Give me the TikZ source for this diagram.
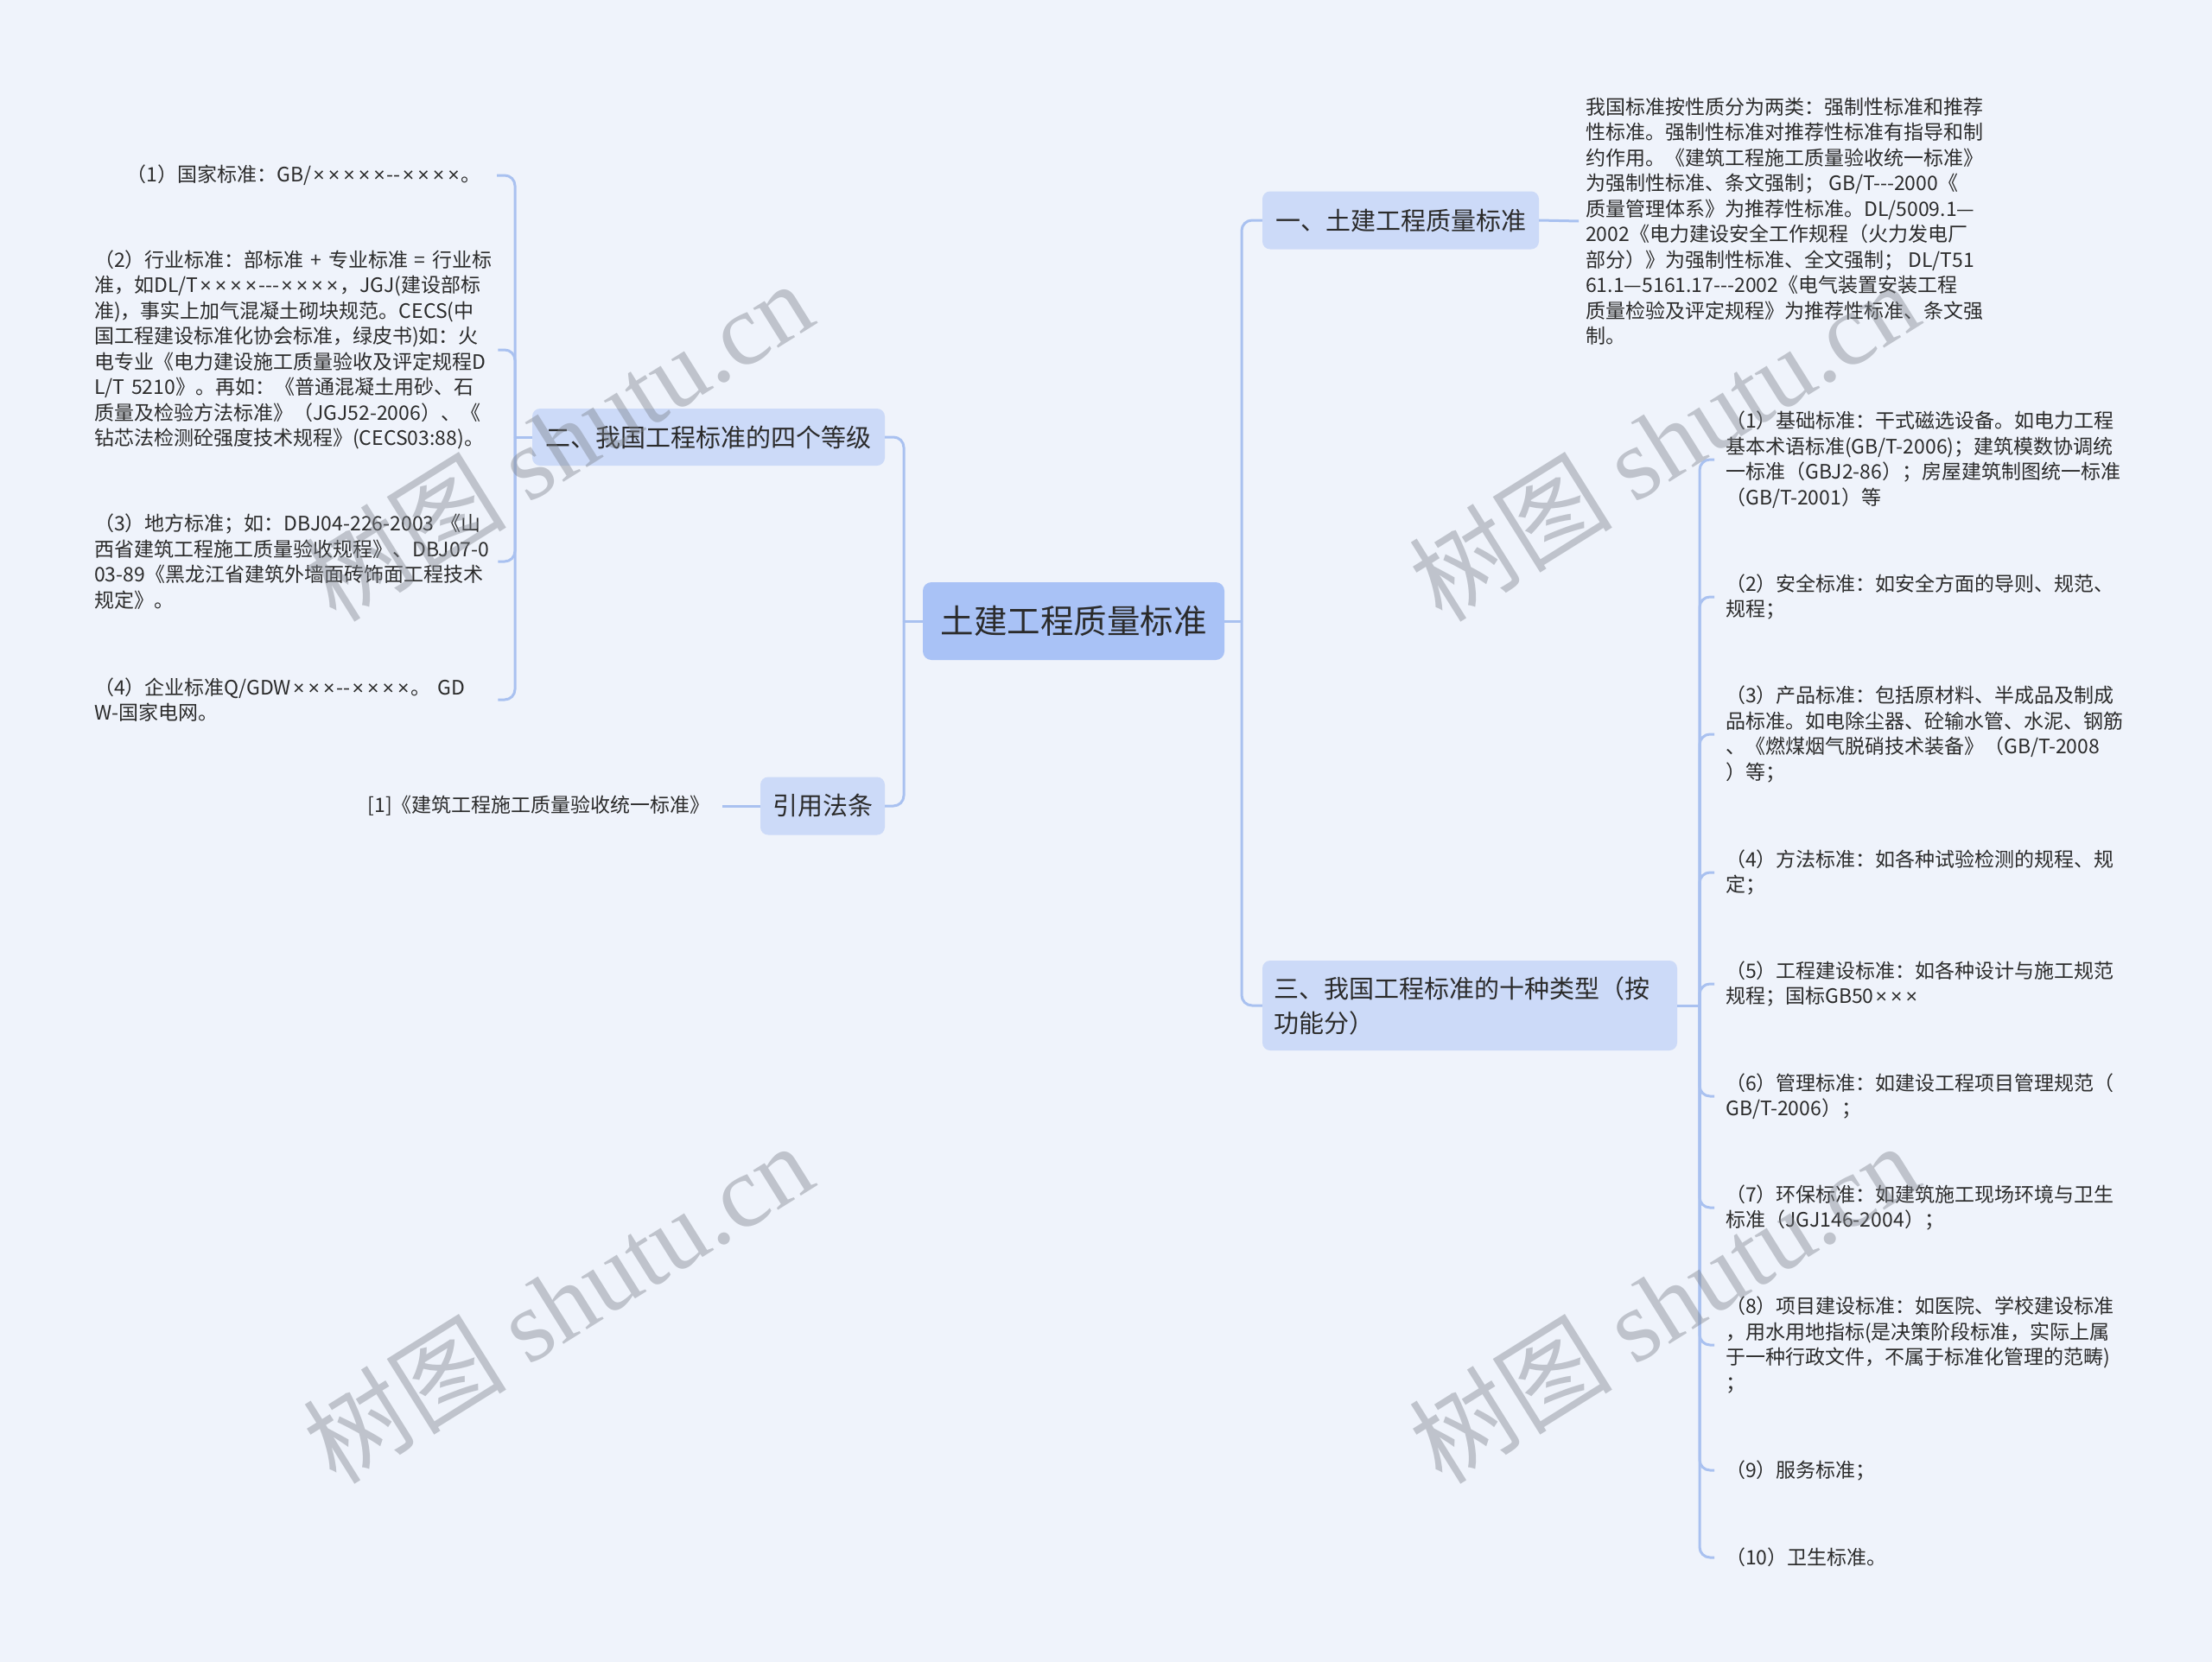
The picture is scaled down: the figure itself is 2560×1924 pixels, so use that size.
\documentclass[tikz,border=0pt]{standalone}
\usepackage{fontspec}
\setmainfont{Noto Sans CJK SC}[Ligatures=TeXOff]
\newfontfamily\wmlatin{Liberation Serif}[Ligatures=TeXOff]
\newfontfamily\wmcjk{Noto Sans CJK SC}[Ligatures=TeXOff]
\newfontfamily\xsignfont{Liberation Sans}[Ligatures=TeXOff]
\newcommand\mytimes{\makebox[17.5pt]{\xsignfont ×}}
\definecolor{bgc}{HTML}{EFF3FB}
\definecolor{rootc}{HTML}{A9C2F6}
\definecolor{lvlc}{HTML}{CCDAF8}
\definecolor{linec}{HTML}{A9C1F0}
\definecolor{txtc}{HTML}{2B2B2B}
\definecolor{wmc}{HTML}{7D828B}
\begin{document}
\begin{tikzpicture}[x=1pt,y=-1pt,
  rootbox/.style={fill=rootc, rounded corners=10pt, minimum width=349pt, minimum height=90pt, inner sep=0pt, text=txtc, font=\fontsize{38.5}{44}\selectfont},
  lvlbox/.style={fill=lvlc, rounded corners=9pt, inner sep=0pt, text=txtc, font=\fontsize{29}{40}\selectfont},
  leaf/.style={text=txtc, align=left, inner ysep=0pt, inner xsep=13pt, font=\fontsize{23}{29.5}\selectfont},
  lleaf/.style={leaf, anchor=west, inner xsep=5pt, text width=462pt},
  conn/.style={draw=linec, line width=3pt, rounded corners=12pt},
  wm/.style={text=wmc, text opacity=0.42, rotate=32, inner sep=0pt, font=\fontsize{118}{130}\selectfont}
]
\fill[bgc] (0,0) rectangle (2560,1924);
\useasboundingbox (0,0) rectangle (2560,1924);

% main nodes
\node[rootbox] (root) at (1242.5,719) {土建工程质量标准};
\node[lvlbox, minimum width=320pt, minimum height=67pt] (one) at (1621,255) {一、土建工程质量标准};
\node[lvlbox, minimum width=408pt, minimum height=66pt] (two) at (820,506) {二、我国工程标准的四个等级};
\node[lvlbox, minimum width=144pt, minimum height=67pt] (cite) at (952,933) {引用法条};
\node[lvlbox, minimum width=480pt, minimum height=104pt, text width=454pt, align=left] (three) at (1701,1164) {三、我国工程标准的十种类型（按\\功能分）};

% description of one
\node[leaf, anchor=west, inner xsep=8pt] (desc) at (1827,256) {我国标准按性质分为两类：强制性标准和推荐\\性标准。强制性标准对推荐性标准有指导和制\\约作用。《建筑工程施工质量验收统一标准》\\为强制性标准、条文强制； GB/T---2000《\\质量管理体系》为推荐性标准。DL/5009.1—\\2002《电力建设安全工作规程（火力发电厂\\部分）》为强制性标准、全文强制； DL/T51\\61.1—5161.17---2002《电气装置安装工程\\质量检验及评定规程》为推荐性标准、条文强\\制。};

% left leaves
\node[leaf, anchor=east, inner xsep=18pt] (l1) at (575,203) {（1）国家标准：GB/\mytimes\mytimes\mytimes\mytimes\mytimes--\mytimes\mytimes\mytimes\mytimes。};
\node[lleaf] (l2) at (104,405) {（2）行业标准：部标准 + 专业标准 = 行业标\\准，如DL/T\mytimes\mytimes\mytimes\mytimes---\mytimes\mytimes\mytimes\mytimes，JGJ(建设部标\\准)，事实上加气混凝土砌块规范。CECS(中\\国工程建设标准化协会标准，绿皮书)如：火\\电专业《电力建设施工质量验收及评定规程D\\L/T 5210》。再如：《普通混凝土用砂、石\\质量及检验方法标准》（JGJ52-2006）、《\\钻芯法检测砼强度技术规程》(CECS03:88)。};
\node[lleaf] (l3) at (104,650) {（3）地方标准；如：DBJ04-226-2003 《山\\西省建筑工程施工质量验收规程》、DBJ07-0\\03-89《黑龙江省建筑外墙面砖饰面工程技术\\规定》。};
\node[lleaf] (l4) at (104,810) {（4）企业标准Q/GDW\mytimes\mytimes\mytimes--\mytimes\mytimes\mytimes\mytimes。 GD\\W-国家电网。};
\node[leaf, anchor=east, inner xsep=14pt] (cl) at (836,933) {[1]《建筑工程施工质量验收统一标准》};

% right leaves
\node[leaf, anchor=west] (r1) at (1984,532) {（1）基础标准：干式磁选设备。如电力工程\\基本术语标准(GB/T-2006)；建筑模数协调统\\一标准（GBJ2-86）；房屋建筑制图统一标准\\（GB/T-2001）等};
\node[leaf, anchor=west] (r2) at (1984,691) {（2）安全标准：如安全方面的导则、规范、\\规程；};
\node[leaf, anchor=west] (r3) at (1984,850) {（3）产品标准：包括原材料、半成品及制成\\品标准。如电除尘器、砼输水管、水泥、钢筋\\、《燃煤烟气脱硝技术装备》（GB/T-2008\\）等；};
\node[leaf, anchor=west] (r4) at (1984,1010) {（4）方法标准：如各种试验检测的规程、规\\定；};
\node[leaf, anchor=west] (r5) at (1984,1139) {（5）工程建设标准：如各种设计与施工规范\\规程；国标GB50\mytimes\mytimes\mytimes};
\node[leaf, anchor=west] (r6) at (1984,1269) {（6）管理标准：如建设工程项目管理规范（\\GB/T-2006）；};
\node[leaf, anchor=west] (r7) at (1984,1398) {（7）环保标准：如建筑施工现场环境与卫生\\标准（JGJ146-2004）；};
\node[leaf, anchor=west] (r8) at (1984,1557) {（8）项目建设标准：如医院、学校建设标准\\，用水用地指标(是决策阶段标准，实际上属\\于一种行政文件，不属于标准化管理的范畴)\\；};
\node[leaf, anchor=west] (r9) at (1984,1702) {（9）服务标准；};
\node[leaf, anchor=west] (r10) at (1984,1803) {（10）卫生标准。};

% junctions
\coordinate (rj) at (1437,719);
\coordinate (lj) at (1046,719);
\coordinate (lb) at (596,506);
\coordinate (rb) at (1967,1164);

% connectors
\draw[conn] (root.east) -- (rj);
\draw[conn] (rj) |- (one.west);
\draw[conn] (rj) |- (three.west);
\draw[conn] (root.west) -- (lj);
\draw[conn] (lj) |- (two.east);
\draw[conn] (lj) |- (cite.east);
\draw[conn] (one.east) -- (desc.west);
\draw[conn] (cite.west) -- (cl.east);
\draw[conn] (two.west) -- (lb);
\foreach \n in {l1,l2,l3,l4} \draw[conn] (lb) |- (\n.east);
\draw[conn] (three.east) -- (rb);
\foreach \n in {r1,r2,r3,r4,r5,r6,r7,r8,r9,r10} \draw[conn] (rb) |- (\n.west);

% watermarks
\node[wm] (wm1) at (645,510) {{\wmcjk 树图} {\wmlatin shutu.cn}};
\node[wm] (wm2) at (1925,510) {{\wmcjk 树图} {\wmlatin shutu.cn}};
\node[wm] (wm3) at (645,1508) {{\wmcjk 树图} {\wmlatin shutu.cn}};
\node[wm] (wm4) at (1925,1508) {{\wmcjk 树图} {\wmlatin shutu.cn}};
\end{tikzpicture}
\end{document}
